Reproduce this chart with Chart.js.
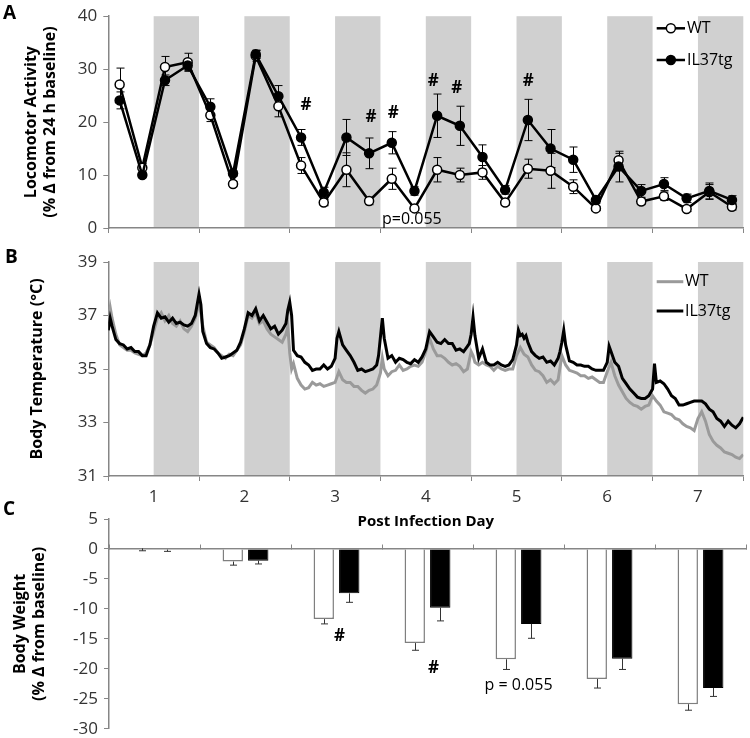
<!DOCTYPE html>
<html><head><meta charset="utf-8">
<script src="https://cdn.jsdelivr.net/npm/chart.js@4/dist/chart.umd.min.js"></script>
<style>
html,body{margin:0;padding:0;background:#fff;overflow:hidden;width:750px;height:738px;position:relative}
canvas{position:absolute;left:0}
</style></head><body>
<canvas id="cA" width="750" height="245" style="top:0"></canvas>
<canvas id="cB" width="750" height="290" style="top:245px"></canvas>
<canvas id="cC" width="750" height="250" style="top:495px"></canvas>
<script>
// ---------- DATA ----------
// Panel A: locomotor activity (6 h bins, hours post infection)
const hoursA = [3,9,15,21,27,33,39,45,51,57,63,69,75,81,87,93,99,105,111,117,123,129,135,141,147,153,159,165];
const wtActivity    = [27.1,11.4,30.4,31.3,21.3,8.3,32.5,23.0,11.8,4.8,11.0,5.1,9.3,3.7,11.0,10.0,10.5,4.8,11.2,10.8,7.8,3.7,12.8,5.0,6.0,3.6,6.8,4.0];
const wtActivityErr = [3.1,0.8,2.0,1.7,1.2,0.5,1.0,2.0,1.5,0.6,3.2,0.7,2.0,0.4,2.3,1.3,1.3,0.5,1.8,3.3,1.3,0.4,1.3,0.6,0.8,0.5,1.4,0.6];
const ilActivity    = [24.1,10.0,27.9,30.7,22.9,10.3,32.8,24.9,17.1,6.7,17.1,14.1,16.1,7.0,21.2,19.3,13.4,7.2,20.4,15.0,12.9,5.3,11.6,7.0,8.3,5.6,7.0,5.3];
const ilActivityErr = [1.6,0.5,1.0,1.0,1.5,0.5,0.8,2.0,1.5,1.0,3.4,2.9,2.1,0.8,4.1,3.7,2.3,0.8,3.9,3.6,2.4,0.6,2.9,1.2,1.2,0.8,1.5,0.8];

// Dark phases (hours) and day ticks
const darkStarts = [12,36,60,84,108,132,156];
const darkLength = 12;
const dayBoundaryHours = [0,24,48,72,96,120,144,168];
const dayLabelHours = [12,36,60,84,108,132,156];
const dayLabels = ['1','2','3','4','5','6','7'];

// Panel B: body temperature traces
const ilTempHours = [0,0.5,1,2,3,4,5,6,7,8,9,10,11,12,13,14,15,16,17,18,19,20,21,22,23,23.5,24,24.5,25,26,27,28,29,30,31,32,33,34,35,36,37,38,39,40,41,42,43,44,45,46,47,47.5,48,48.5,49,50,51,52,53,54,55,56,57,58,59,60,60.5,61,62,63,64,65,66,67,68,69,70,71,71.5,72,72.5,73,74,75,76,77,78,79,80,81,82,83,84,85,86,87,88,89,90,91,92,93,94,95,95.5,96,96.5,97,98,99,100,101,102,103,104,105,106,107,108,108.5,109,109.5,110,110.5,111,112,113,114,115,116,117,118,119,119.5,120,120.5,121,122,123,124,125,126,127,128,129,130,131,132,132.5,133,134,135,136,137,138,139,140,141,142,143,144,144.5,145,146,147,148,149,150,151,152,153,154,155,156,157,158,159,160,161,162,163,164,165,166,167,168];
const ilTemp = [36.45,36.9,36.6,36.1,35.95,35.9,35.75,35.8,35.65,35.65,35.5,35.5,35.9,36.6,37.1,36.9,36.95,36.75,36.9,36.7,36.75,36.65,36.6,36.7,37.0,37.4,37.8,37.4,36.4,35.95,35.8,35.75,35.6,35.4,35.45,35.5,35.6,35.7,36.0,36.5,37.1,37.0,37.25,36.8,37.0,36.75,36.5,36.6,36.3,36.45,36.7,37.2,37.5,37.0,35.7,35.5,35.45,35.25,35.15,34.95,35.0,35.0,35.15,35.0,35.1,35.4,36.15,36.4,35.9,35.7,35.5,35.25,34.95,35.0,34.9,34.95,35.0,35.15,35.5,36.2,36.9,36.15,35.4,35.5,35.25,35.4,35.35,35.25,35.2,35.35,35.25,35.45,35.75,36.4,36.2,36.0,35.95,36.1,35.95,35.95,35.7,35.75,35.65,35.85,35.95,36.3,36.95,36.25,35.4,35.75,35.25,35.15,35.15,35.25,35.15,35.1,35.15,35.35,35.9,36.45,36.25,36.3,36.15,36.25,36.0,35.65,35.5,35.4,35.45,35.25,35.3,35.15,35.4,35.65,36.0,36.45,35.9,35.3,35.25,35.15,35.15,35.1,35.1,35.0,34.95,34.95,34.95,35.25,35.85,35.65,35.25,35.1,34.65,34.45,34.25,34.1,33.95,33.9,33.9,34.0,34.25,35.2,34.5,34.55,34.45,34.25,34.0,33.9,33.65,33.65,33.7,33.75,33.8,33.8,33.8,33.7,33.5,33.4,33.15,33.05,32.85,33.05,32.9,32.8,32.95,33.2];
const wtTempHours = [0,0.5,1,2,3,4,5,6,7,8,9,10,11,12,13,14,15,16,17,18,19,20,21,22,23,24,25,26,27,28,29,30,31,32,33,34,35,36,37,38,39,40,41,42,43,44,45,46,47,47.5,48,48.5,49,50,51,52,53,54,55,56,57,58,59,60,61,62,63,64,65,66,67,68,69,70,71,72,72.5,73,74,75,76,77,78,79,80,81,82,83,84,85,86,87,88,89,90,91,92,93,94,95,96,96.5,97,98,99,100,101,102,103,104,105,106,107,108,109,110,111,112,113,114,115,116,117,118,119,120,121,122,123,124,125,126,127,128,129,130,131,132,133,134,135,136,137,138,139,140,141,142,143,144,145,146,147,148,149,150,151,152,153,154,155,156,157,158,159,160,161,162,163,164,165,166,167,168];
const wtTemp = [36.9,37.3,36.9,36.3,35.9,35.8,35.7,35.7,35.6,35.55,35.5,35.6,35.9,36.4,36.9,37.1,36.8,37.0,36.7,36.6,36.8,36.5,36.4,36.6,36.9,37.5,36.6,36.0,35.9,35.8,35.6,35.5,35.4,35.55,35.5,35.7,35.9,36.4,37.0,36.9,37.1,36.7,36.8,36.5,36.3,36.2,36.1,36.0,36.3,36.6,35.6,35.0,35.2,34.65,34.4,34.25,34.3,34.5,34.4,34.45,34.35,34.4,34.45,34.5,34.9,34.6,34.5,34.5,34.35,34.35,34.2,34.1,34.2,34.25,34.4,34.85,35.4,35.0,34.75,34.9,34.95,35.15,34.95,35.0,35.1,35.15,35.1,35.25,35.65,36.15,35.75,35.5,35.5,35.4,35.25,35.15,35.2,35.1,34.9,35.0,35.65,35.5,35.25,35.15,35.25,35.15,35.1,34.95,35.1,35.0,34.95,35.0,35.0,35.5,35.8,35.55,35.45,35.15,34.95,34.9,34.75,34.5,34.6,34.45,34.6,35.5,35.15,34.95,34.9,34.85,34.75,34.75,34.65,34.7,34.6,34.5,34.5,34.9,35.25,34.75,34.4,34.15,33.9,33.75,33.65,33.6,33.5,33.6,33.65,34.0,33.8,33.65,33.4,33.35,33.3,33.15,33.1,32.95,32.85,32.8,32.7,33.15,33.4,33.05,32.55,32.3,32.15,32.05,31.9,31.85,31.8,31.7,31.65,31.8];

// Panel C: body weight per day
const weightDays = ['1','2','3','4','5','6','7'];
const wtWeight    = [0.1,-2.1,-11.7,-15.7,-18.4,-21.7,-25.9];
const wtWeightErr = [0.4,0.6,0.8,1.2,1.7,1.5,1.0];
const ilWeight    = [-0.1,-1.95,-7.4,-9.8,-12.5,-18.3,-23.2];
const ilWeightErr = [0.3,0.55,1.5,2.2,2.4,1.8,1.4];

// ---------- STYLE / HELPERS ----------
const AXIS = '#868686';
const FONT = "'Open Sans', sans-serif";
Chart.defaults.font.family = FONT;
Chart.defaults.font.size = 17;
Chart.defaults.color = '#333';
Chart.defaults.animation = false;

const toXY = (xs, ys) => xs.map((x, i) => ({x: x, y: ys[i]}));

function fixWidth(w){ return function(s){ s.width = w; }; }
function fixHeight(h){ return function(s){ s.height = h; }; }

const bandsPlugin = {
  id: 'bands',
  beforeDraw(chart){
    const {ctx, chartArea, scales:{x}} = chart;
    ctx.save();
    ctx.fillStyle = '#d0d0d0';
    darkStarts.forEach(s => {
      const x1 = x.getPixelForValue(s), x2 = x.getPixelForValue(s + darkLength);
      ctx.fillRect(x1, chartArea.top, x2 - x1, chartArea.bottom - chartArea.top);
    });
    ctx.restore();
  }
};

const errA = {
  id: 'errA',
  beforeDatasetsDraw(chart){
    const {ctx, scales:{x, y}} = chart;
    ctx.save();
    ctx.strokeStyle = '#000'; ctx.lineWidth = 1;
    chart.data.datasets.forEach(ds => {
      if (!ds.errors) return;
      ds.data.forEach((p, i) => {
        const px = Math.round(x.getPixelForValue(p.x)) + 0.5;
        const y1 = y.getPixelForValue(p.y + ds.errors[i]);
        const y2 = y.getPixelForValue(p.y - ds.errors[i]);
        ctx.beginPath();
        ctx.moveTo(px, y1); ctx.lineTo(px, y2);
        ctx.moveTo(px - 4, y1); ctx.lineTo(px + 4, y1);
        ctx.moveTo(px - 4, y2); ctx.lineTo(px + 4, y2);
        ctx.stroke();
      });
    });
    ctx.restore();
  }
};

const errC = {
  id: 'errC',
  afterDatasetsDraw(chart){
    const {ctx, scales:{y}} = chart;
    ctx.save();
    ctx.strokeStyle = '#333'; ctx.lineWidth = 1;
    chart.data.datasets.forEach((ds, di) => {
      const meta = chart.getDatasetMeta(di);
      meta.data.forEach((bar, i) => {
        const v = ds.data[i], e = ds.errors[i];
        const px = Math.round(bar.x) + 0.5;
        const y1 = y.getPixelForValue(v), y2 = y.getPixelForValue(v - e);
        ctx.beginPath();
        ctx.moveTo(px, y1); ctx.lineTo(px, y2);
        ctx.moveTo(px - 3.5, y2); ctx.lineTo(px + 3.5, y2);
        ctx.stroke();
      });
    });
    ctx.restore();
  }
};

function notes(items){
  return {
    id: 'notes',
    afterDraw(chart){
      const {ctx, scales:{x, y}} = chart;
      ctx.save();
      items.forEach(it => {
        ctx.font = it.font;
        ctx.fillStyle = it.color || '#000';
        ctx.textAlign = it.align || 'center';
        ctx.textBaseline = 'middle';
        const px = (it.px !== undefined) ? it.px : x.getPixelForValue(it.x) + (it.dx || 0);
        const py = (it.py !== undefined) ? it.py : y.getPixelForValue(it.y);
        ctx.fillText(it.text, px, py);
      });
      ctx.restore();
    }
  };
}

function legendPlugin(entries){
  return {
    id: 'legendCustom',
    afterDraw(chart){
      const ctx = chart.ctx;
      ctx.save();
      entries.forEach(e => {
        ctx.strokeStyle = e.line; ctx.lineWidth = e.width;
        ctx.beginPath(); ctx.moveTo(e.x1, e.y); ctx.lineTo(e.x2, e.y); ctx.stroke();
        if (e.marker){
          ctx.beginPath(); ctx.arc((e.x1 + e.x2) / 2, e.y, 4.5, 0, Math.PI * 2);
          ctx.fillStyle = e.marker; ctx.fill();
          ctx.lineWidth = 1.5; ctx.strokeStyle = '#000'; ctx.stroke();
        }
        ctx.fillStyle = '#000';
        ctx.font = "16px " + FONT;
        ctx.textAlign = 'left'; ctx.textBaseline = 'middle';
        ctx.fillText(e.text, e.tx, e.y);
      });
      ctx.restore();
    }
  };
}

const yTitleFont = {family: FONT, size: 16, weight: 'bold'};

// ---------- PANEL A ----------
new Chart(document.getElementById('cA'), {
  type: 'line',
  data: {
    datasets: [
      {label: 'IL37tg', data: toXY(hoursA, ilActivity), errors: ilActivityErr,
       borderColor: '#000', borderWidth: 2.5, pointRadius: 4.5, pointBackgroundColor: '#000',
       pointBorderColor: '#000', pointBorderWidth: 1.5, tension: 0},
      {label: 'WT', data: toXY(hoursA, wtActivity), errors: wtActivityErr,
       borderColor: '#000', borderWidth: 2.5, pointRadius: 4.5, pointBackgroundColor: '#fff',
       pointBorderColor: '#000', pointBorderWidth: 1.5, tension: 0}
    ]
  },
  options: {
    responsive: false,
    layout: {padding: {top: 14, left: 0, right: 6.7, bottom: 0}},
    plugins: {legend: {display: false}, tooltip: {enabled: false}},
    scales: {
      x: {type: 'linear', min: 0, max: 168,
          ticks: {display: false, stepSize: 24},
          grid: {drawOnChartArea: false, drawTicks: true, tickLength: 5, tickColor: AXIS},
          border: {color: AXIS, width: 1.5},
          afterFit: fixHeight(17)},
      y: {min: 0, max: 40,
          ticks: {stepSize: 10, padding: 6, color: '#333'},
          grid: {drawOnChartArea: false, drawTicks: true, tickLength: 5, tickColor: AXIS},
          border: {color: AXIS, width: 1.5},
          title: {display: true, text: ['Locomotor Activity', '(% Δ from 24 h baseline)'],
                  font: yTitleFont, color: '#000', padding: {top: 22}},
          afterFit: fixWidth(108.3)}
    }
  },
  plugins: [bandsPlugin, errA,
    notes([
      {x: 52.3, y: 23.2, text: '#', font: 'bold 17px ' + FONT},
      {x: 69.5, y: 20.9, text: '#', font: 'bold 17px ' + FONT},
      {x: 75.4, y: 21.7, text: '#', font: 'bold 17px ' + FONT},
      {x: 86.0, y: 27.7, text: '#', font: 'bold 17px ' + FONT},
      {x: 92.2, y: 26.4, text: '#', font: 'bold 17px ' + FONT},
      {x: 111.1, y: 27.7, text: '#', font: 'bold 17px ' + FONT},
      {x: 80.3, y: 1.6, text: 'p=0.055', font: '16px ' + FONT},
      {px: 3, py: 14, text: 'A', font: 'bold 19px ' + FONT, align: 'left'}
    ]),
    legendPlugin([
      {x1: 656.7, x2: 685, y: 28.3, line: '#000', width: 2.5, marker: '#fff', text: 'WT', tx: 687},
      {x1: 656.7, x2: 685, y: 60, line: '#000', width: 2.5, marker: '#000', text: 'IL37tg', tx: 687}
    ])]
});

// ---------- PANEL B ----------
new Chart(document.getElementById('cB'), {
  type: 'line',
  data: {
    datasets: [
      {label: 'IL37tg', data: toXY(ilTempHours, ilTemp), borderColor: '#000', borderWidth: 3,
       pointRadius: 0, tension: 0},
      {label: 'WT', data: toXY(wtTempHours, wtTemp), borderColor: '#9a9a9a', borderWidth: 3,
       pointRadius: 0, tension: 0}
    ]
  },
  options: {
    responsive: false,
    layout: {padding: {top: 17, left: 0, right: 6.7, bottom: 0}},
    plugins: {legend: {display: false}, tooltip: {enabled: false}},
    scales: {
      x: {type: 'linear', min: 0, max: 168,
          afterBuildTicks: s => { s.ticks = dayBoundaryHours.concat(dayLabelHours).sort((a, b) => a - b).map(v => ({value: v})); },
          ticks: {autoSkip: false, maxRotation: 0, padding: 6, color: '#333',
                  callback: v => { const i = dayLabelHours.indexOf(v); return i >= 0 ? dayLabels[i] : ''; }},
          grid: {drawOnChartArea: false, drawTicks: true, tickLength: 5,
                 tickColor: c => (c.tick && dayBoundaryHours.indexOf(c.tick.value) >= 0) ? AXIS : 'rgba(0,0,0,0)'},
          border: {color: AXIS, width: 1.5},
          title: {display: true, text: 'Post Infection Day', font: {family: FONT, size: 15, weight: 'bold'},
                  color: '#000', padding: {top: 0, bottom: 4.3}},
          afterFit: fixHeight(59)},
      y: {min: 31, max: 39,
          ticks: {stepSize: 2, padding: 6, color: '#333'},
          grid: {drawOnChartArea: false, drawTicks: true, tickLength: 5, tickColor: AXIS},
          border: {color: AXIS, width: 1.5},
          title: {display: true, text: 'Body Temperature (°C)', font: yTitleFont, color: '#000', padding: {top: 27.4}},
          afterFit: fixWidth(108.3)}
    }
  },
  plugins: [bandsPlugin,
    notes([{px: 5, py: 12.5, text: 'B', font: 'bold 19px ' + FONT, align: 'left'}]),
    legendPlugin([
      {x1: 656.7, x2: 683.3, y: 36.7, line: '#9a9a9a', width: 3, text: 'WT', tx: 685},
      {x1: 656.7, x2: 683.3, y: 66, line: '#000', width: 3, text: 'IL37tg', tx: 685}
    ])]
});

// ---------- PANEL C ----------
new Chart(document.getElementById('cC'), {
  type: 'bar',
  data: {
    labels: weightDays,
    datasets: [
      {label: 'WT', data: wtWeight, errors: wtWeightErr, backgroundColor: '#fff', borderColor: '#7f7f7f',
       borderWidth: 1.5, categoryPercentage: 0.56, barPercentage: 0.8},
      {label: 'IL37tg', data: ilWeight, errors: ilWeightErr, backgroundColor: '#000', borderColor: '#000',
       borderWidth: 1, categoryPercentage: 0.56, barPercentage: 0.8}
    ]
  },
  options: {
    responsive: false,
    layout: {padding: {top: 24, left: 0, right: 4, bottom: 16}},
    plugins: {legend: {display: false}, tooltip: {enabled: false}},
    scales: {
      x: {position: {y: 0},
          ticks: {display: false},
          grid: {offset: true, drawOnChartArea: false, drawTicks: true, tickLength: -5, tickColor: AXIS},
          border: {color: AXIS, width: 1.5},
          afterFit: fixHeight(0)},
      y: {min: -30, max: 5,
          ticks: {stepSize: 5, padding: 6, color: '#333'},
          grid: {drawOnChartArea: false, drawTicks: true, tickLength: 5, tickColor: AXIS},
          border: {color: AXIS, width: 1.5},
          title: {display: true, text: ['Body Weight', '(% Δ from baseline)'], font: yTitleFont, color: '#000',
                  padding: {top: 10.4}},
          afterFit: fixWidth(109)}
    }
  },
  plugins: [errC,
    notes([
      {x: 2, dx: 3, y: -14.5, text: '#', font: 'bold 17px ' + FONT},
      {x: 3, dx: 6, y: -19.9, text: '#', font: 'bold 17px ' + FONT},
      {x: 4, dx: 0, y: -22.8, text: 'p = 0.055', font: '16px ' + FONT},
      {px: 3, py: 15, text: 'C', font: 'bold 19px ' + FONT, align: 'left'}
    ])]
});
</script>
</body></html>
